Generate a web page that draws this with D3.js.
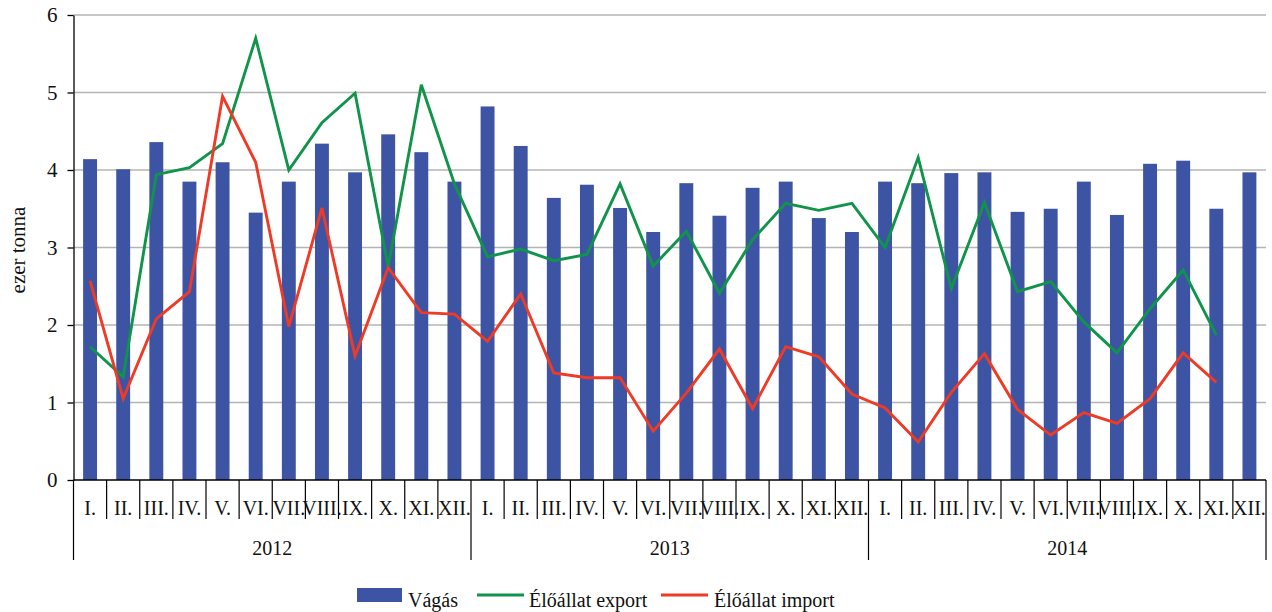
<!DOCTYPE html>
<html><head><meta charset="utf-8">
<script src="https://cdn.jsdelivr.net/npm/d3@7"></script>
<style>body{margin:0;background:#fff}svg{display:block}svg text{font-family:"Liberation Serif","Times New Roman",serif !important;fill:#111}</style>
</head><body><svg id="c" width="1272" height="612"></svg>
<script>
const years = ["2012","2013","2014"];
const months = ["I.","II.","III.","IV.","V.","VI.","VII.","VIII.","IX.","X.","XI.","XII."];
const vagas = [4.14,4.01,4.36,3.85,4.10,3.45,3.85,4.34,3.97,4.46,4.23,3.85,
               4.82,4.31,3.64,3.81,3.51,3.20,3.83,3.41,3.77,3.85,3.38,3.20,
               3.85,3.83,3.96,3.97,3.46,3.50,3.85,3.42,4.08,4.12,3.50,3.97];
const exportV = [1.72,1.33,3.94,4.03,4.34,5.70,4.00,4.61,4.99,2.75,5.10,3.82,
                 2.88,2.98,2.83,2.91,3.82,2.76,3.21,2.41,3.10,3.57,3.48,3.57,
                 3.00,4.16,2.47,3.58,2.43,2.56,2.04,1.64,2.21,2.71,1.87,null];
const importV = [2.57,1.05,2.08,2.43,4.95,4.10,1.98,3.51,1.60,2.74,2.16,2.14,
                 1.79,2.40,1.38,1.32,1.32,0.63,1.12,1.69,0.92,1.72,1.59,1.11,
                 0.93,0.49,1.13,1.63,0.91,0.58,0.87,0.73,1.05,1.64,1.26,null];
const yTicks = [0,1,2,3,4,5,6];
const seriesNames = ["Vágás","Élőállat export","Élőállat import"];
const colors = {bar:"#3d54a4", exp:"#10944a", imp:"#ef3a26", grid:"#b4b4b4"};
const FONT = "'Liberation Serif','Times New Roman',serif";

const keys = [];
years.forEach(y=>months.forEach(m=>keys.push(y+"-"+m)));
const svg = d3.select("#c");
const L=73.5, R=1266, T=15, B=480;
const x = d3.scaleBand().domain(keys).range([L,R]).paddingInner(0);
const y = d3.scaleLinear().domain([0,6]).range([B,T]);

// grid
svg.append("g").selectAll("line").data(yTicks.filter(d=>d>0)).join("line")
  .attr("x1",L).attr("x2",R).attr("y1",d=>y(d)).attr("y2",d=>y(d))
  .attr("stroke",colors.grid).attr("stroke-width",1.5);

// bars
const bw = x.bandwidth()*0.42;
svg.append("g").selectAll("rect").data(vagas).join("rect")
  .attr("x",(d,i)=>x(keys[i])+x.bandwidth()/2-bw/2).attr("width",bw)
  .attr("y",d=>y(d)).attr("height",d=>B-y(d)).attr("fill",colors.bar);

// lines
const line = d3.line().defined(d=>d.v!=null).x(d=>x(d.k)+x.bandwidth()/2).y(d=>y(d.v));
svg.append("path").datum(exportV.map((v,i)=>({k:keys[i],v})))
  .attr("d",line).attr("fill","none").attr("stroke",colors.exp).attr("stroke-width",2.9).attr("stroke-linejoin","miter");
svg.append("path").datum(importV.map((v,i)=>({k:keys[i],v})))
  .attr("d",line).attr("fill","none").attr("stroke",colors.imp).attr("stroke-width",2.9).attr("stroke-linejoin","miter");

// y axis
const ya = svg.append("g").attr("transform",`translate(${L},0)`)
  .call(d3.axisLeft(y).tickValues(yTicks).tickFormat(d3.format("d")).tickSize(6).tickSizeOuter(0).tickPadding(10));
ya.attr("font-family",FONT).attr("font-size",20);
ya.select(".domain").attr("stroke","#000").attr("stroke-width",1.3);
ya.selectAll(".tick line").attr("stroke","#000").attr("stroke-width",1.3);
ya.selectAll(".tick text").style("font-size","21px").style("font-family",FONT).attr("fill","#111");

// x axis baseline
svg.append("line").attr("x1",L).attr("x2",R).attr("y1",B).attr("y2",B).attr("stroke","#000").attr("stroke-width",1.3);

// month separators
const g = svg.append("g");
keys.forEach((k,i)=>{
  const xl = x(k);
  const long = i%12===0;
  g.append("line").attr("x1",xl).attr("x2",xl).attr("y1",B).attr("y2",long?560:519)
    .attr("stroke","#000").attr("stroke-width",1.2);
});
g.append("line").attr("x1",R).attr("x2",R).attr("y1",B).attr("y2",560).attr("stroke","#000").attr("stroke-width",1.2);
g.selectAll("text.m").data(keys).join("text").attr("class","m")
  .attr("x",k=>x(k)+x.bandwidth()/2).attr("y",515).attr("text-anchor","middle")
  .style("font-size","20px").style("font-family",FONT).text((k,i)=>months[i%12]);
g.selectAll("text.yr").data(years).join("text").attr("class","yr")
  .attr("x",(d,i)=>(x(d+"-I.")+x(d+"-XII.")+x.bandwidth())/2).attr("y",555).attr("text-anchor","middle")
  .style("font-size","20px").style("font-family",FONT).text(d=>d);

// y label
svg.append("text").attr("transform","translate(25,250) rotate(-90)").attr("text-anchor","middle")
  .style("font-size","21px").style("font-family",FONT).text("ezer tonna");

// legend
const lg = svg.append("g").style("font-size","20px").style("font-family",FONT);
lg.append("rect").attr("x",357).attr("y",588).attr("width",45).attr("height",14).attr("fill",colors.bar);
lg.append("text").attr("x",408).attr("y",607).text(seriesNames[0]);
lg.append("line").attr("x1",477).attr("x2",524).attr("y1",595).attr("y2",595).attr("stroke",colors.exp).attr("stroke-width",2.9);
lg.append("text").attr("x",529).attr("y",607).text(seriesNames[1]);
lg.append("line").attr("x1",661).attr("x2",708).attr("y1",595).attr("y2",595).attr("stroke",colors.imp).attr("stroke-width",2.9);
lg.append("text").attr("x",714).attr("y",607).text(seriesNames[2]);
</script></body></html>
